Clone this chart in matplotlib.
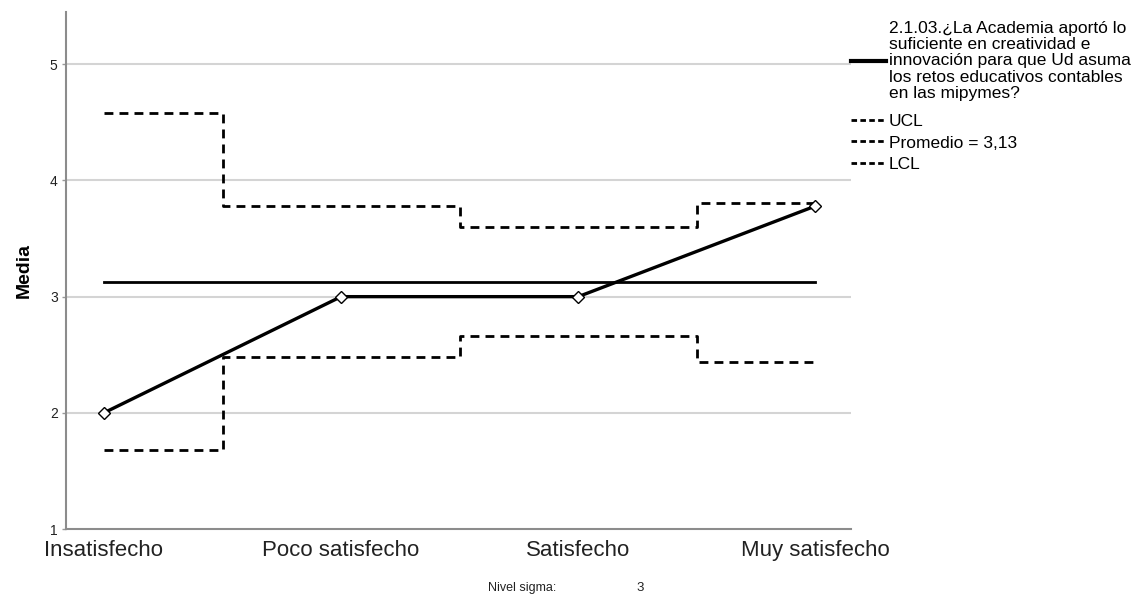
import matplotlib
matplotlib.use("Agg")
import matplotlib.pyplot as plt
from matplotlib.lines import Line2D

plt.rcParams['font.family'] = ['Liberation Sans', 'DejaVu Sans']

# data
categorias = ['Insatisfecho', 'Poco satisfecho', 'Satisfecho', 'Muy satisfecho']
medias = [2.00, 3.00, 3.00, 3.78]
ucl = [4.58, 3.78, 3.60, 3.81]
lcl = [1.68, 2.48, 2.66, 2.44]
promedio = 3.13
y_ticks = [1, 2, 3, 4, 5]
pregunta = ('2.1.03.¿La Academia aportó lo\nsuficiente en creatividad e\n'
            'innovación para que Ud asuma\nlos retos educativos contables\n'
            'en las mipymes?')

fig = plt.figure(figsize=(11.36, 6.01), dpi=100)
ax = fig.add_axes([0.0581, 0.1198, 0.691, 0.8602])

x = list(range(len(categorias)))

for v in y_ticks[1:]:
    ax.axhline(v, color='#d4d4d4', lw=1.5, zorder=0)

dash = (3.2, 2.2)
ax.step(x, ucl, where='mid', color='black', lw=2, linestyle=(0, dash))
ax.step(x, lcl, where='mid', color='black', lw=2, linestyle=(0, dash))
ax.plot([x[0], x[-1]], [promedio, promedio], color='black', lw=2)
ax.plot(x, medias, color='black', lw=2.4, marker='D', markersize=6,
        markerfacecolor='white', markeredgecolor='black', markeredgewidth=1)

ax.set_xlim(-0.16, 3.15)
ax.set_ylim(1, 5.45)
ax.set_yticks(y_ticks)
ax.set_xticks(x)
ax.set_xticklabels(categorias, fontsize=16)
ax.tick_params(axis='x', length=0, pad=8, colors='#222222')
ax.tick_params(axis='y', length=3, width=1, pad=3, labelsize=10,
               color='#999999', labelcolor='#222222')

for s in ['top', 'right']:
    ax.spines[s].set_visible(False)
for s in ['left', 'bottom']:
    ax.spines[s].set_color('#8c8c8c')
    ax.spines[s].set_linewidth(1.5)

ax.set_ylabel('Media', fontsize=14, fontweight='bold', labelpad=12)

# legend: the question entry, then the control limits
leg_kw = dict(frameon=False, fontsize=12.5, handlelength=2.0, handletextpad=0.2,
              labelspacing=0.35, borderaxespad=0, borderpad=0, loc='upper left')
leg1 = fig.legend([Line2D([], [], color='black', lw=3)], [pregunta],
                  bbox_to_anchor=(0.749, 0.965), **leg_kw)
for t in leg1.get_texts():
    t.set_linespacing(1.1)

lim_handles = [Line2D([], [], color='black', lw=2, linestyle=(0, (2, 1.2)))
               for _ in range(3)]
fig.legend(lim_handles, ['UCL', 'Promedio = 3,13', 'LCL'],
           bbox_to_anchor=(0.749, 0.810), **leg_kw)

fig.text(0.430, 0.016, 'Nivel sigma:', fontsize=9, color='#222222')
fig.text(0.560, 0.016, '3', fontsize=9.5, color='#222222')

fig.savefig('out.png', dpi=100)
